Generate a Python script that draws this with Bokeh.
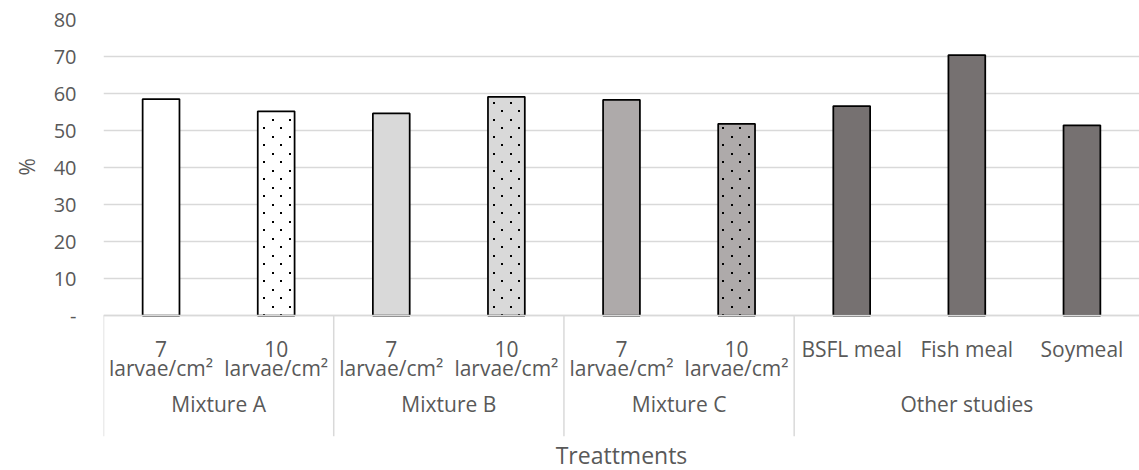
import base64, struct, zlib
from bokeh.plotting import figure
from bokeh.models import (FactorRange, Range1d, FixedTicker, ColumnDataSource, Title,
                          ImageURLTexture)
from bokeh.core.properties import value
from bokeh.embed import file_html
from bokeh.resources import INLINE

# ---- data ----
groups = ["Mixture A", "Mixture A", "Mixture B", "Mixture B", "Mixture C", "Mixture C",
          "Other studies", "Other studies", "Other studies"]
subcats = ["7\nlarvae/cm²", "10\nlarvae/cm²", "7\nlarvae/cm²", "10\nlarvae/cm²",
           "7\nlarvae/cm²", "10\nlarvae/cm²", "BSFL meal", "Fish meal", "Soymeal"]
values = [58.5, 55.2, 54.6, 59.1, 58.3, 51.8, 56.6, 70.4, 51.4]
fill_colors = ["#ffffff", "#ffffff", "#d9d9d9", "#d9d9d9", "#aeaaaa", "#aeaaaa",
               "#767171", "#767171", "#767171"]
hatches = [" ", "sdots", " ", "sdots", " ", "sdots", " ", " ", " "]
y_ticks = [0, 10, 20, 30, 40, 50, 60, 70, 80]
y_tick_labels = {0: "-"}
x_title = "Treattments"
y_title = "%"

FONT = "Open Sans"
TXT = "#595959"
GRID = "#d9d9d9"
Y_BOTTOM = -32.7      # extra room under the zero line for the category labels
Y_GROUP_BASE = -24.0  # baseline of the group labels (data units under zero)


def dot_tile(n=17, d=2):
    h = n // 2
    rows = []
    for yy in range(n):
        row = bytearray()
        for xx in range(n):
            on = (xx < d and yy < d) or (h <= xx < h + d and h <= yy < h + d)
            row += bytes([0, 0, 0, 255]) if on else bytes([0, 0, 0, 0])
        rows.append(b"\x00" + bytes(row))
    raw = b"".join(rows)

    def chunk(t, dat):
        return struct.pack(">I", len(dat)) + t + dat + struct.pack(">I", zlib.crc32(t + dat) & 0xffffffff)

    png = (b"\x89PNG\r\n\x1a\n" + chunk(b"IHDR", struct.pack(">IIBBBBB", n, n, 8, 6, 0, 0, 0))
           + chunk(b"IDAT", zlib.compress(raw)) + chunk(b"IEND", b""))
    return "data:image/png;base64," + base64.b64encode(png).decode()


factors = list(zip(groups, subcats))
src = ColumnDataSource(dict(x=factors, top=values, fill=fill_colors, hatch=hatches))

x_range = FactorRange(*factors, factor_padding=0, subgroup_padding=0, group_padding=0, range_padding=0)

p = figure(x_range=x_range, y_range=Range1d(Y_BOTTOM, 80), width=1139, height=470,
           output_backend="svg", toolbar_location=None,
           min_border_left=99, min_border_right=0, min_border_top=19, min_border_bottom=0)
p.outline_line_color = None
p.background_fill_color = "white"
p.border_fill_color = "white"

p.vbar(x="x", top="top", bottom=0, width=0.32, source=src, fill_color="fill",
       line_color="black", line_width=1.75,
       hatch_pattern="hatch", hatch_extra={"sdots": ImageURLTexture(url=dot_tile())})

# group separators under the axis (left edge + between groups)
bounds = [i for i in range(len(groups)) if i == 0 or groups[i] != groups[i - 1]]
p.segment(x0=bounds, y0=[0] * len(bounds), x1=bounds, y1=[Y_BOTTOM] * len(bounds),
          line_color=GRID, line_width=1.5)

# group labels, centred under their categories
group_names = [groups[b] for b in bounds]
group_ends = bounds[1:] + [len(groups)]
group_centers = [(b + e) / 2 for b, e in zip(bounds, group_ends)]
p.text(x=group_centers, y=[Y_GROUP_BASE] * len(group_names), text=group_names,
       text_font=value(FONT), text_font_size="21px", text_color=TXT,
       text_align="center", text_baseline="alphabetic")

# grid
p.xgrid.grid_line_color = None
p.ygrid.ticker = FixedTicker(ticks=y_ticks)
p.ygrid.grid_line_color = GRID
p.ygrid.grid_line_width = 1.5

# y axis
ya = p.yaxis[0]
ya.ticker = FixedTicker(ticks=y_ticks)
ya.major_label_overrides = y_tick_labels
ya.axis_line_color = None
ya.major_tick_line_color = None
ya.minor_tick_line_color = None
ya.major_tick_out = 0
ya.major_label_standoff = 27
ya.major_label_text_font = FONT
ya.major_label_text_font_size = "20px"
ya.major_label_text_color = TXT

p.add_layout(Title(text=y_title, align="left", offset=261, standoff=20,
                   text_font=FONT, text_font_size="21px", text_font_style="normal",
                   text_color=TXT), "left")

# x axis (placed at zero inside the extended frame)
xa = p.xaxis[0]
xa.fixed_location = 0
xa.axis_line_color = GRID
xa.axis_line_width = 1.5
xa.major_tick_line_color = None
xa.minor_tick_line_color = None
xa.major_tick_out = 0
xa.major_tick_in = 0
xa.major_label_orientation = "horizontal"
xa.group_label_orientation = "horizontal"
xa.major_label_standoff = 19
xa.major_label_text_font = FONT
xa.major_label_text_font_size = "21px"
xa.major_label_text_line_height = 0.7
xa.major_label_text_color = TXT
xa.group_text_color = None
xa.separator_line_color = None

p.add_layout(Title(text=x_title, align="center", standoff=0,
                   text_font=FONT, text_font_size="23px", text_font_style="normal",
                   text_color=TXT), "below")

open("out.html", "w").write(file_html(p, INLINE))
